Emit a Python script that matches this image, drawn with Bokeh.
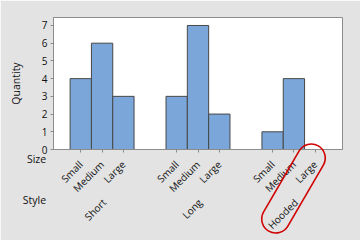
import math
from bokeh.plotting import figure
from bokeh.models import FactorRange, Range1d, Label, FixedTicker, ColumnDataSource
from bokeh.embed import file_html
from bokeh.resources import INLINE

styles = ["Short", "Long", "Hooded"]
sizes = ["Small", "Medium", "Large"]
quantity_short = [4, 6, 3]
quantity_long = [3, 7, 2]
quantity_hooded = [1, 4, 0]
y_ticks = [0, 1, 2, 3, 4, 5, 6, 7]

factors = [(st, sz) for st in styles for sz in sizes]
counts = quantity_short + quantity_long + quantity_hooded
src = ColumnDataSource(dict(x=factors, top=counts))

FONT = "Open Sans"
BG = "#E3E3E3"
AX = "#8C8C8C"
TXT = "#111111"

# layout geometry (canvas pixels)
F_LEFT, F_TOP, F_W, F_H = 53, 17, 289, 132
PAD, GPAD, NSUB = 0.78, 1.5, len(sizes)
X_SPAN = len(styles) * NSUB + (len(styles) - 1) * GPAD + 2 * PAD

xr = FactorRange(*factors, factor_padding=0, group_padding=GPAD,
                 range_padding=PAD, range_padding_units="absolute")
p = figure(x_range=xr, y_range=Range1d(0, 7.45),
           frame_width=F_W, frame_height=F_H,
           min_border_left=F_LEFT, min_border_right=360 - F_LEFT - F_W,
           min_border_top=F_TOP, min_border_bottom=240 - F_TOP - F_H,
           output_backend="svg", toolbar_location=None)
p.border_fill_color = BG
p.background_fill_color = "white"
p.outline_line_color = AX
p.outline_line_width = 1
p.xgrid.visible = False
p.ygrid.visible = False

p.vbar(x="x", top="top", width=1, source=src, fill_color="#7BA6DA",
       line_color="#474747", line_width=1)

# y axis
ya = p.yaxis[0]
ya.ticker = FixedTicker(ticks=y_ticks)
ya.axis_label = "Quantity"
ya.axis_label_text_font = FONT
ya.axis_label_text_font_size = "10.5px"
ya.axis_label_text_font_style = "normal"
ya.axis_label_text_color = TXT
ya.axis_label_standoff = 16
ya.major_label_text_font = FONT
ya.major_label_text_font_size = "10px"
ya.major_label_text_color = TXT
ya.major_label_standoff = 3
ya.major_tick_in = 0
ya.major_tick_out = 3
ya.minor_tick_line_color = None
ya.axis_line_color = AX
ya.major_tick_line_color = AX

# x axis (size labels from the axis; style labels placed below)
xa = p.xaxis[0]
xa.major_label_orientation = math.pi / 4
xa.major_label_text_font = FONT
xa.major_label_text_font_size = "10px"
xa.major_label_text_color = TXT
xa.major_label_standoff = 10
xa.group_text_color = None
xa.separator_line_color = None
xa.major_tick_in = 0
xa.major_tick_out = 3
xa.axis_line_color = AX
xa.major_tick_line_color = AX

def label(**kw):
    base = dict(x_units="canvas", y_units="canvas", text_font=FONT,
                text_font_size="10.5px", text_color=TXT)
    base.update(kw)
    p.add_layout(Label(**base), "below")

label(x=36, y=158, text="Size", text_align="center", text_baseline="middle")
label(x=34, y=199, text="Style", text_align="center", text_baseline="middle")

for i, st in enumerate(styles):
    center = i * (NSUB + GPAD) + NSUB / 2
    px = F_LEFT + (center + PAD) * F_W / X_SPAN
    label(x=px + 2, y=200, text=st, text_align="right", text_baseline="middle",
          angle=math.pi / 4, text_font_size="10px")

# red hand-drawn ellipse around "Large" / "Hooded"
label(x=293, y=188, text=" ", text_align="center", text_baseline="middle",
      text_font_size="10px", angle=math.radians(59.8), padding=(48, 7),
      border_radius=14, border_line_color="#D00000", border_line_width=1.6,
      background_fill_color=None)

open("out.html", "w").write(file_html(p, INLINE))
